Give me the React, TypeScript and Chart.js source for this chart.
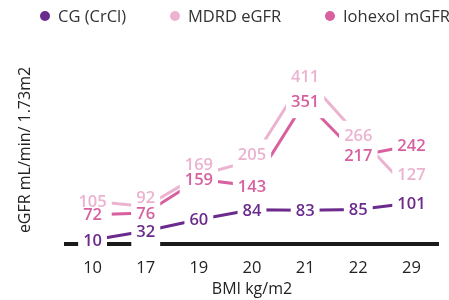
import React, { useEffect, useRef } from "react";
import { Chart, registerables } from "chart.js";

Chart.register(...registerables);

// ---- data ----
const categories = ["10", "17", "19", "20", "21", "22", "29"];
const cgValues = [10, 32, 60, 84, 83, 85, 101];
const mdrdValues = [105, 92, 169, 205, 411, 266, 127];
const iohexolValues = [72, 76, 159, 143, 351, 217, 242];
const seriesNames = ["CG (CrCl)", "MDRD eGFR", "Iohexol mGFR"];
const xTitle = "BMI kg/m2";
const yTitle = "eGFR mL/min/ 1.73m2";

// ---- styles ----
const COLORS = ["#6b2a8c", "#ebb3d0", "#d7609f"];
const FONT = '"Open Sans", "Noto Sans", sans-serif';
const LEGEND_X = [45, 175, 330];
const LEGEND_Y = 16;
// vertical pixel nudges for value labels (to avoid overlaps, as in the reference)
const mdrdLabelShift = [0, -9, -11, -6, 0, 0, -18];

const valueLabels = {
  id: "valueLabels",
  afterDatasetsDraw(chart: any) {
    const ctx = chart.ctx as CanvasRenderingContext2D;
    ctx.save();
    ctx.font = `600 16.5px ${FONT}`;
    ctx.textAlign = "center";
    ctx.textBaseline = "middle";
    const items: { x: number; y: number; text: string; color: string }[] = [];
    chart.data.datasets.forEach((ds: any, di: number) => {
      const meta = chart.getDatasetMeta(di);
      const shifts: number[] = ds.labelShift || [];
      meta.data.forEach((pt: any, i: number) => {
        items.push({
          x: pt.x,
          y: pt.y + (shifts[i] || 0),
          text: String(ds.data[i]),
          color: ds.borderColor,
        });
      });
    });
    // white knock-out boxes create the gaps in lines and axis around each label
    ctx.fillStyle = "#ffffff";
    items.forEach((it) => {
      const w = ctx.measureText(it.text).width + 10;
      ctx.fillRect(it.x - w / 2, it.y - 15, w, 32);
    });
    items.forEach((it) => {
      ctx.fillStyle = it.color;
      ctx.fillText(it.text, it.x, it.y + 1);
    });
    ctx.restore();
  },
};

const topLegend = {
  id: "topLegend",
  afterDraw(chart: any) {
    const ctx = chart.ctx as CanvasRenderingContext2D;
    ctx.save();
    ctx.font = `16.5px ${FONT}`;
    ctx.textAlign = "left";
    ctx.textBaseline = "middle";
    chart.data.datasets.forEach((ds: any, i: number) => {
      const cx = LEGEND_X[i];
      ctx.fillStyle = ds.borderColor;
      ctx.beginPath();
      ctx.arc(cx, LEGEND_Y, 5, 0, Math.PI * 2);
      ctx.fill();
      ctx.fillStyle = "#333333";
      ctx.fillText(ds.label, cx + 13, LEGEND_Y + 1);
    });
    ctx.restore();
  },
};

export default function App() {
  const canvasRef = useRef<HTMLCanvasElement | null>(null);

  useEffect(() => {
    if (!canvasRef.current) return;
    const mk = (label: string, data: number[], color: string, extra: any = {}) => ({
      label,
      data,
      borderColor: color,
      backgroundColor: color,
      borderWidth: 3,
      pointRadius: 0,
      tension: 0,
      fill: false,
      ...extra,
    });
    const chart = new Chart(canvasRef.current, {
      type: "line",
      data: {
        labels: categories,
        datasets: [
          mk(seriesNames[0], cgValues, COLORS[0]),
          mk(seriesNames[1], mdrdValues, COLORS[1], { labelShift: mdrdLabelShift }),
          mk(seriesNames[2], iohexolValues, COLORS[2]),
        ],
      },
      options: {
        animation: false,
        responsive: false,
        layout: { padding: { top: 56, right: 11, bottom: 0, left: 0 } },
        plugins: {
          legend: { display: false },
          tooltip: { enabled: false },
        },
        scales: {
          x: {
            offset: true,
            grid: { display: false, drawTicks: false },
            border: { display: true, color: "#1a1a1a", width: 4 },
            ticks: {
              padding: 14,
              color: "#222222",
              font: { family: FONT, size: 16.5 },
            },
            title: {
              display: true,
              text: xTitle,
              color: "#222222",
              font: { family: FONT, size: 16 },
              padding: { top: -12.4, bottom: 1.4 },
            },
          },
          y: {
            min: 0,
            max: 462,
            grid: { display: false, drawTicks: false },
            border: { display: false },
            ticks: { display: false },
            title: {
              display: true,
              text: yTitle,
              color: "#222222",
              font: { family: FONT, size: 16 },
              padding: { top: 15.4, bottom: 31.4 },
            },
          },
        },
      },
      plugins: [valueLabels, topLegend],
    } as any);
    return () => chart.destroy();
  }, []);

  return (
    <div style={{ position: "absolute", left: 0, top: 0, width: 449, height: 300, background: "#fff" }}>
      <canvas ref={canvasRef} width={449} height={300} />
    </div>
  );
}
